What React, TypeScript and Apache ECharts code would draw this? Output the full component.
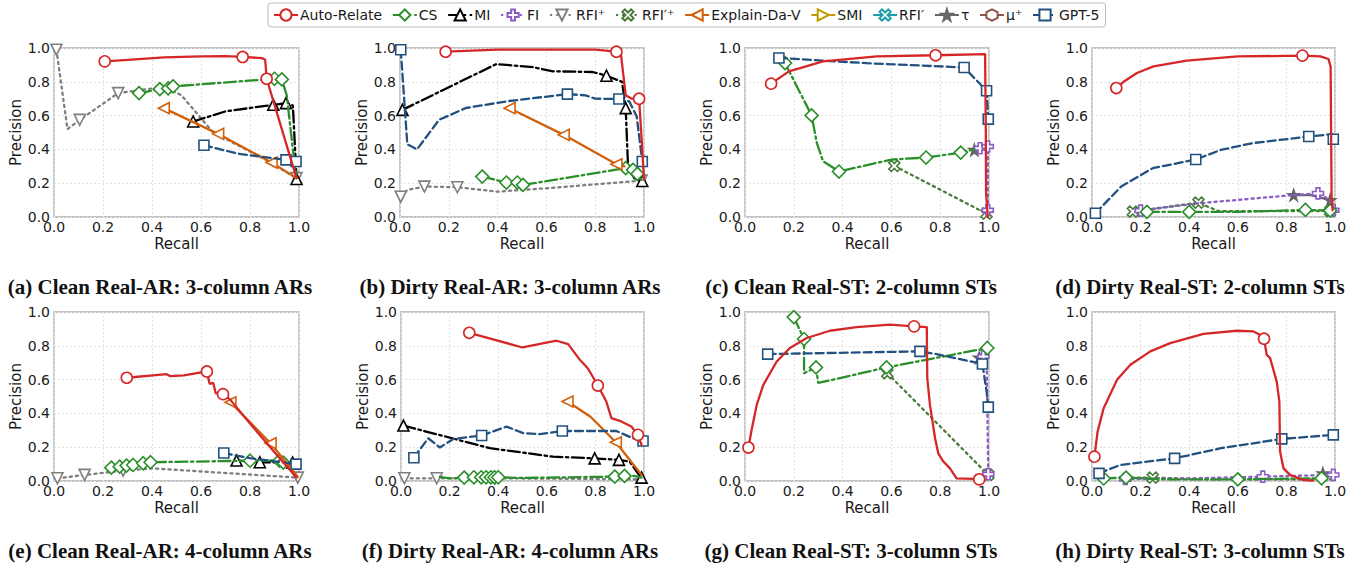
import React, { useEffect, useRef } from 'react';
import * as echarts from 'echarts';

type Pt = [number, number];
type Curve = { line: Pt[]; marks: Pt[] };

// ---------- axis ticks ----------
const TICKS = [0, 0.2, 0.4, 0.6, 0.8, 1.0];

// ---------- legend / methods ----------
const METHOD_NAMES = ['Auto-Relate', 'CS', 'MI', 'FI', 'RFI⁺', 'RFI′⁺', 'Explain-Da-V', 'SMI', 'RFI′', 'τ', 'μ⁺', 'GPT-5'];

const CAPTIONS = [
  '(a) Clean Real-AR: 3-column ARs',
  '(b) Dirty Real-AR: 3-column ARs',
  '(c) Clean Real-ST: 2-column STs',
  '(d) Dirty Real-ST: 2-column STs',
  '(e) Clean Real-AR: 4-column ARs',
  '(f) Dirty Real-AR: 4-column ARs',
  '(g) Clean Real-ST: 3-column STs',
  '(h) Dirty Real-ST: 3-column STs',
];

// ---------- data (recall, precision) ----------
const PANEL_A: Record<string, Curve> = {
  'RFI⁺': {
    line: [[0.01, 0.99], [0.055, 0.52], [0.105, 0.575], [0.262, 0.733], [0.45, 0.77], [0.52, 0.72], [0.65, 0.5], [0.85, 0.35], [0.99, 0.23]],
    marks: [[0.01, 0.99], [0.105, 0.575], [0.262, 0.733], [0.99, 0.23]],
  },
  'Explain-Da-V': {
    line: [[0.448, 0.644], [0.67, 0.492], [0.888, 0.322], [0.99, 0.23]],
    marks: [[0.448, 0.644], [0.67, 0.492], [0.888, 0.322]],
  },
  'GPT-5': {
    line: [[0.612, 0.425], [0.75, 0.375], [0.947, 0.338], [0.988, 0.328]],
    marks: [[0.612, 0.425], [0.947, 0.338], [0.988, 0.328]],
  },
  MI: {
    line: [[0.568, 0.565], [0.7, 0.625], [0.895, 0.664], [0.947, 0.674], [0.975, 0.66], [0.99, 0.225]],
    marks: [[0.568, 0.565], [0.895, 0.664], [0.947, 0.674], [0.99, 0.225]],
  },
  CS: {
    line: [[0.347, 0.733], [0.432, 0.757], [0.466, 0.761], [0.486, 0.773], [0.9, 0.818], [0.93, 0.814], [0.95, 0.72], [0.975, 0.4], [0.99, 0.23]],
    marks: [[0.347, 0.733], [0.432, 0.757], [0.466, 0.761], [0.486, 0.773], [0.9, 0.818], [0.93, 0.814]],
  },
  'Auto-Relate': {
    line: [[0.207, 0.921], [0.3, 0.93], [0.45, 0.945], [0.6, 0.95], [0.7, 0.952], [0.77, 0.947], [0.85, 0.94], [0.862, 0.93], [0.868, 0.818], [0.99, 0.23]],
    marks: [[0.207, 0.921], [0.77, 0.947], [0.868, 0.818]],
  },
};

const PANEL_B: Record<string, Curve> = {
  'RFI⁺': {
    line: [[0.003, 0.12], [0.03, 0.16], [0.1, 0.18], [0.235, 0.176], [0.4, 0.15], [0.6, 0.17], [0.99, 0.215]],
    marks: [[0.003, 0.12], [0.1, 0.18], [0.235, 0.176], [0.99, 0.215]],
  },
  'Explain-Da-V': {
    line: [[0.449, 0.644], [0.671, 0.486], [0.887, 0.312], [0.92, 0.3]],
    marks: [[0.449, 0.644], [0.671, 0.486], [0.887, 0.312]],
  },
  'GPT-5': {
    line: [[0.003, 0.99], [0.03, 0.43], [0.07, 0.4], [0.16, 0.575], [0.27, 0.645], [0.44, 0.685], [0.686, 0.727], [0.76, 0.72], [0.8, 0.7], [0.897, 0.698], [0.94, 0.684], [0.97, 0.595], [0.993, 0.328]],
    marks: [[0.003, 0.99], [0.686, 0.727], [0.897, 0.698], [0.993, 0.328]],
  },
  MI: {
    line: [[0.01, 0.634], [0.395, 0.905], [0.545, 0.887], [0.627, 0.862], [0.79, 0.858], [0.846, 0.836], [0.91, 0.8], [0.925, 0.644], [0.934, 0.32], [0.95, 0.26], [0.96, 0.23], [0.993, 0.213]],
    marks: [[0.01, 0.634], [0.846, 0.836], [0.925, 0.644], [0.993, 0.213]],
  },
  CS: {
    line: [[0.337, 0.239], [0.436, 0.204], [0.481, 0.204], [0.504, 0.19], [0.925, 0.289], [0.955, 0.279], [0.973, 0.255], [0.99, 0.22]],
    marks: [[0.337, 0.239], [0.436, 0.204], [0.481, 0.204], [0.504, 0.19], [0.925, 0.289], [0.955, 0.279], [0.973, 0.255]],
  },
  'Auto-Relate': {
    line: [[0.187, 0.978], [0.4, 0.99], [0.6, 0.99], [0.8, 0.99], [0.887, 0.978], [0.905, 0.97], [0.925, 0.72], [0.95, 0.7], [0.98, 0.7], [0.995, 0.35], [1.0, 0.22]],
    marks: [[0.187, 0.978], [0.887, 0.978], [0.98, 0.7]],
  },
};

const PANEL_C: Record<string, Curve> = {
  'RFI′⁺': {
    line: [[0.612, 0.302], [0.99, 0.02]],
    marks: [[0.612, 0.302], [0.99, 0.02]],
  },
  FI: {
    line: [[0.963, 0.407], [0.995, 0.417], [0.995, 0.04]],
    marks: [[0.963, 0.407], [0.995, 0.417], [0.995, 0.04]],
  },
  τ: {
    line: [[0.94, 0.397], [0.963, 0.405]],
    marks: [[0.94, 0.397]],
  },
  CS: {
    line: [[0.164, 0.911], [0.273, 0.601], [0.294, 0.44], [0.32, 0.33], [0.385, 0.269], [0.6, 0.34], [0.742, 0.352], [0.884, 0.381], [0.94, 0.4]],
    marks: [[0.164, 0.911], [0.273, 0.601], [0.385, 0.269], [0.742, 0.352], [0.884, 0.381]],
  },
  'GPT-5': {
    line: [[0.139, 0.941], [0.5, 0.91], [0.898, 0.885], [0.99, 0.747], [0.997, 0.579]],
    marks: [[0.139, 0.941], [0.898, 0.885], [0.99, 0.747], [0.997, 0.579]],
  },
  'Auto-Relate': {
    line: [[0.107, 0.789], [0.18, 0.862], [0.32, 0.921], [0.54, 0.95], [0.781, 0.957], [0.984, 0.964], [0.987, 0.5], [0.988, 0.14], [0.993, 0.04], [0.995, 0.0]],
    marks: [[0.107, 0.789], [0.781, 0.957]],
  },
};

const PANEL_D: Record<string, Curve> = {
  'RFI′⁺': {
    line: [[0.168, 0.032], [0.438, 0.085], [0.52, 0.035], [0.98, 0.035]],
    marks: [[0.168, 0.032], [0.438, 0.085], [0.98, 0.035]],
  },
  CS: {
    line: [[0.226, 0.03], [0.4, 0.03], [0.6, 0.03], [0.878, 0.042], [0.98, 0.038]],
    marks: [[0.226, 0.03], [0.4, 0.03], [0.878, 0.042], [0.98, 0.038]],
  },
  FI: {
    line: [[0.2, 0.038], [0.43, 0.08], [0.83, 0.13], [0.93, 0.14], [0.98, 0.1], [0.993, 0.04]],
    marks: [[0.2, 0.038], [0.93, 0.14], [0.993, 0.04]],
  },
  τ: {
    line: [[0.83, 0.13], [0.9, 0.13], [0.98, 0.1]],
    marks: [[0.83, 0.13], [0.98, 0.1]],
  },
  'GPT-5': {
    line: [[0.014, 0.022], [0.12, 0.18], [0.25, 0.289], [0.427, 0.34], [0.53, 0.397], [0.66, 0.437], [0.892, 0.476], [0.99, 0.49], [0.993, 0.46]],
    marks: [[0.014, 0.022], [0.427, 0.34], [0.892, 0.476], [0.993, 0.46]],
  },
  'Auto-Relate': {
    line: [[0.1, 0.763], [0.13, 0.8], [0.185, 0.852], [0.253, 0.891], [0.39, 0.925], [0.6, 0.95], [0.866, 0.955], [0.94, 0.95], [0.973, 0.935], [0.982, 0.89], [0.986, 0.12], [0.99, 0.04]],
    marks: [[0.1, 0.763], [0.866, 0.955]],
  },
};

const PANEL_E: Record<string, Curve> = {
  'RFI⁺': {
    line: [[0.014, 0.016], [0.125, 0.036], [0.282, 0.061], [0.4, 0.075], [0.995, 0.02]],
    marks: [[0.014, 0.016], [0.125, 0.036], [0.282, 0.061], [0.995, 0.02]],
  },
  CS: {
    line: [[0.234, 0.079], [0.268, 0.085], [0.296, 0.091], [0.323, 0.095], [0.364, 0.105], [0.394, 0.111], [0.8, 0.12], [0.92, 0.12], [0.936, 0.109], [0.99, 0.03]],
    marks: [[0.234, 0.079], [0.268, 0.085], [0.296, 0.091], [0.323, 0.095], [0.364, 0.105], [0.394, 0.111], [0.8, 0.12], [0.92, 0.12], [0.936, 0.109]],
  },
  'GPT-5': {
    line: [[0.693, 0.166], [0.8, 0.135], [0.988, 0.1]],
    marks: [[0.693, 0.166], [0.988, 0.1]],
  },
  MI: {
    line: [[0.745, 0.121], [0.84, 0.111], [0.974, 0.109]],
    marks: [[0.745, 0.121], [0.84, 0.111], [0.974, 0.109]],
  },
  'Explain-Da-V': {
    line: [[0.72, 0.466], [0.884, 0.223], [0.995, 0.026]],
    marks: [[0.72, 0.466], [0.884, 0.223]],
  },
  'Auto-Relate': {
    line: [[0.297, 0.611], [0.46, 0.632], [0.475, 0.62], [0.53, 0.625], [0.624, 0.648], [0.635, 0.575], [0.65, 0.58], [0.66, 0.52], [0.69, 0.514], [0.72, 0.48], [0.8, 0.34], [0.9, 0.17], [0.99, 0.02]],
    marks: [[0.297, 0.611], [0.624, 0.648], [0.69, 0.514]],
  },
};

const PANEL_F: Record<string, Curve> = {
  'RFI⁺': {
    line: [[0.014, 0.016], [0.147, 0.016], [0.386, 0.016], [0.99, 0.01]],
    marks: [[0.014, 0.016], [0.147, 0.016], [0.386, 0.016]],
  },
  CS: {
    line: [[0.16, 0.025], [0.2, 0.015], [0.26, 0.02], [0.3, 0.022], [0.33, 0.022], [0.35, 0.022], [0.37, 0.022], [0.385, 0.022], [0.4, 0.022], [0.5, 0.018], [0.88, 0.026], [0.92, 0.03], [0.96, 0.03], [0.99, 0.02]],
    marks: [[0.26, 0.02], [0.3, 0.022], [0.33, 0.022], [0.35, 0.022], [0.37, 0.022], [0.385, 0.022], [0.4, 0.022], [0.88, 0.026], [0.92, 0.03]],
  },
  MI: {
    line: [[0.01, 0.328], [0.366, 0.194], [0.626, 0.144], [0.797, 0.134], [0.897, 0.125], [0.941, 0.115], [0.975, 0.045], [0.99, 0.02]],
    marks: [[0.01, 0.328], [0.797, 0.134], [0.897, 0.125], [0.99, 0.02]],
  },
  'GPT-5': {
    line: [[0.053, 0.138], [0.112, 0.253], [0.16, 0.198], [0.215, 0.249], [0.332, 0.269], [0.434, 0.322], [0.503, 0.283], [0.571, 0.277], [0.664, 0.296], [0.886, 0.296], [0.955, 0.253], [0.996, 0.237]],
    marks: [[0.053, 0.138], [0.332, 0.269], [0.664, 0.296], [0.996, 0.237]],
  },
  'Explain-Da-V': {
    line: [[0.685, 0.47], [0.78, 0.38], [0.884, 0.229], [0.99, 0.036]],
    marks: [[0.685, 0.47], [0.884, 0.229]],
  },
  'Auto-Relate': {
    line: [[0.281, 0.877], [0.5, 0.79], [0.64, 0.83], [0.688, 0.81], [0.736, 0.717], [0.77, 0.664], [0.81, 0.565], [0.845, 0.47], [0.866, 0.372], [0.9, 0.356], [0.948, 0.322], [0.975, 0.273], [0.99, 0.213]],
    marks: [[0.281, 0.877], [0.81, 0.565], [0.975, 0.273]],
  },
};

const PANEL_G: Record<string, Curve> = {
  'RFI′⁺': {
    line: [[0.583, 0.638], [0.997, 0.036]],
    marks: [[0.583, 0.638], [0.997, 0.036]],
  },
  FI: {
    line: [[0.977, 0.737], [0.99, 0.74], [0.997, 0.04]],
    marks: [[0.977, 0.737], [0.997, 0.04]],
  },
  τ: {
    line: [[0.96, 0.73], [0.977, 0.737]],
    marks: [[0.96, 0.73]],
  },
  CS: {
    line: [[0.2, 0.97], [0.242, 0.84], [0.242, 0.638], [0.291, 0.672], [0.3, 0.58], [0.58, 0.672], [0.993, 0.787]],
    marks: [[0.2, 0.97], [0.242, 0.84], [0.291, 0.672], [0.58, 0.672], [0.993, 0.787]],
  },
  'GPT-5': {
    line: [[0.093, 0.751], [0.717, 0.767], [0.785, 0.751], [0.973, 0.692], [0.99, 0.53], [0.997, 0.437]],
    marks: [[0.093, 0.751], [0.717, 0.767], [0.973, 0.692], [0.997, 0.437]],
  },
  'Auto-Relate': {
    line: [[0.014, 0.198], [0.027, 0.302], [0.048, 0.45], [0.075, 0.569], [0.13, 0.707], [0.184, 0.787], [0.253, 0.846], [0.348, 0.889], [0.458, 0.911], [0.594, 0.925], [0.693, 0.915], [0.745, 0.911], [0.747, 0.609], [0.758, 0.45], [0.779, 0.253], [0.792, 0.164], [0.813, 0.115], [0.84, 0.075], [0.867, 0.016], [0.936, 0.012], [0.96, 0.01], [0.977, 0.006]],
    marks: [[0.014, 0.198], [0.693, 0.915], [0.96, 0.01]],
  },
};

const PANEL_H: Record<string, Curve> = {
  'RFI′⁺': {
    line: [[0.137, 0.02], [0.25, 0.02], [0.5, 0.01], [0.98, 0.01]],
    marks: [[0.25, 0.02]],
  },
  CS: {
    line: [[0.048, 0.015], [0.14, 0.02], [0.3, 0.01], [0.6, 0.01], [0.945, 0.016]],
    marks: [[0.048, 0.015], [0.14, 0.02], [0.6, 0.01], [0.945, 0.016]],
  },
  FI: {
    line: [[0.137, 0.012], [0.4, 0.015], [0.703, 0.026], [0.993, 0.036]],
    marks: [[0.137, 0.012], [0.703, 0.026], [0.993, 0.036]],
  },
  τ: {
    line: [[0.95, 0.045]],
    marks: [[0.95, 0.045]],
  },
  'GPT-5': {
    line: [[0.029, 0.045], [0.116, 0.095], [0.34, 0.134], [0.53, 0.194], [0.781, 0.249], [0.993, 0.273]],
    marks: [[0.029, 0.045], [0.34, 0.134], [0.781, 0.249], [0.993, 0.273]],
  },
  'Auto-Relate': {
    line: [[0.01, 0.144], [0.023, 0.292], [0.048, 0.431], [0.103, 0.599], [0.158, 0.688], [0.24, 0.767], [0.322, 0.816], [0.459, 0.87], [0.596, 0.889], [0.664, 0.885], [0.685, 0.87], [0.708, 0.842], [0.719, 0.747], [0.733, 0.727], [0.76, 0.589], [0.771, 0.47], [0.774, 0.174], [0.788, 0.075], [0.815, 0.036], [0.87, 0.006], [0.91, 0.002]],
    marks: [[0.01, 0.144], [0.708, 0.842]],
  },
};

const PANELS = [PANEL_A, PANEL_B, PANEL_C, PANEL_D, PANEL_E, PANEL_F, PANEL_G, PANEL_H];

// ---------- styling (not data) ----------
const SYM = {
  plus: 'path://M3.3,0L6.7,0L6.7,3.3L10,3.3L10,6.7L6.7,6.7L6.7,10L3.3,10L3.3,6.7L0,6.7L0,3.3L3.3,3.3Z',
  cross: 'path://M0,2.2L2.2,0L5,2.8L7.8,0L10,2.2L7.2,5L10,7.8L7.8,10L5,7.2L2.2,10L0,7.8L2.8,5Z',
  triDown: 'path://M0,0L10,0L5,9Z',
  triLeft: 'path://M0,5L9,0L9,10Z',
  triRight: 'path://M0,0L9,5L0,10Z',
  star: 'path://M5,0L6.2,3.6L10,3.6L6.9,5.9L8.1,9.5L5,7.3L1.9,9.5L3.1,5.9L0,3.6L3.8,3.6Z',
  hex: 'path://M5,0L9.33,2.5L9.33,7.5L5,10L0.67,7.5L0.67,2.5Z',
};
const DASHDOT = [12, 3.5, 2.5, 3.5];
const DASHED = [8, 4];
const DOTTED = [2.2, 4];
const LW = 2.3;

const STYLE: Record<string, { color: string; symbol: string; size: number; dash: any; filled?: boolean; z: number }> = {
  'Auto-Relate': { color: '#d62728', symbol: 'circle', size: 11, dash: 'solid', z: 12 },
  CS: { color: '#2a8f2a', symbol: 'diamond', size: 13, dash: DASHDOT, z: 8 },
  MI: { color: '#000000', symbol: 'triangle', size: 11, dash: DASHDOT, z: 7 },
  FI: { color: '#8a5cc4', symbol: SYM.plus, size: 11, dash: DOTTED, z: 6 },
  'RFI⁺': { color: '#7f7f7f', symbol: SYM.triDown, size: 11, dash: DOTTED, z: 3 },
  'RFI′⁺': { color: '#4a7d3b', symbol: SYM.cross, size: 11, dash: DOTTED, z: 4 },
  'Explain-Da-V': { color: '#d2600a', symbol: SYM.triLeft, size: 11, dash: 'solid', z: 9 },
  SMI: { color: '#c29a00', symbol: SYM.triRight, size: 11, dash: 'solid', z: 5 },
  'RFI′': { color: '#1aa0a8', symbol: SYM.cross, size: 11, dash: 'solid', z: 5 },
  τ: { color: '#666666', symbol: SYM.star, size: 11, dash: 'solid', filled: true, z: 5 },
  'μ⁺': { color: '#8c564b', symbol: SYM.hex, size: 11, dash: 'solid', z: 5 },
  'GPT-5': { color: '#22517f', symbol: 'rect', size: 10, dash: DASHED, z: 10 },
};

const GRIDS = [
  { left: 54, top: 48, width: 245, height: 169 },
  { left: 400, top: 48, width: 244, height: 169 },
  { left: 745, top: 48, width: 244, height: 169 },
  { left: 1092, top: 48, width: 243, height: 169 },
  { left: 54, top: 312, width: 245, height: 169 },
  { left: 401, top: 312, width: 243, height: 169 },
  { left: 745, top: 312, width: 244, height: 169 },
  { left: 1092, top: 312, width: 243, height: 169 },
];
const CAPTION_POS = [
  [160, 287], [510, 287], [851, 287], [1200, 287],
  [160, 551], [510, 551], [851, 551], [1200, 551],
];

const FONT = 'DejaVu Sans';
const TEXT = '#1a1a1a';

function buildOption() {
  const series: any[] = [];
  const grid: any[] = [];
  const xAxis: any[] = [];
  const yAxis: any[] = [];

  GRIDS.forEach((g, i) => {
    grid.push({ ...g, show: true, borderColor: '#b0b0b0', borderWidth: 1.3, backgroundColor: 'transparent' });
    const common = {
      gridIndex: i,
      type: 'value',
      min: TICKS[0],
      max: TICKS[TICKS.length - 1],
      interval: TICKS[1] - TICKS[0],
      axisLine: { show: false },
      axisTick: { show: false },
      splitLine: { show: true, lineStyle: { color: '#e2e2e2', type: [2, 2], width: 1 } },
      axisLabel: { formatter: (v: number) => v.toFixed(1), fontSize: 14, color: TEXT, fontFamily: FONT },
      nameLocation: 'middle',
      nameTextStyle: { fontSize: 15, color: TEXT, fontFamily: FONT },
    };
    xAxis.push({ ...common, name: 'Recall', nameGap: 19, axisLabel: { ...common.axisLabel, margin: 3 } });
    yAxis.push({ ...common, name: 'Precision', nameGap: 28, axisLabel: { ...common.axisLabel, margin: 4 } });
  });

  // legend series (ensures every method appears in legend with line + marker icon)
  METHOD_NAMES.forEach((name) => {
    const s = STYLE[name];
    series.push({
      type: 'line',
      name,
      xAxisIndex: 0,
      yAxisIndex: 0,
      data: [],
      symbol: s.symbol,
      symbolSize: s.size,
      showSymbol: false,
      lineStyle: { color: s.color, width: LW, type: s.dash },
      itemStyle: { color: s.filled ? s.color : '#ffffff', borderColor: s.color, borderWidth: 1.6 },
    });
  });

  PANELS.forEach((panel, i) => {
    Object.keys(panel).forEach((name) => {
      const s = STYLE[name];
      const c = panel[name];
      series.push({
        type: 'line',
        name,
        xAxisIndex: i,
        yAxisIndex: i,
        data: c.line,
        symbol: 'none',
        showSymbol: false,
        clip: true,
        z: s.z,
        lineStyle: { color: s.color, width: LW, type: s.dash, cap: 'round' },
        silent: true,
      });
      series.push({
        type: 'scatter',
        name,
        xAxisIndex: i,
        yAxisIndex: i,
        data: c.marks,
        symbol: s.symbol,
        symbolSize: s.size,
        z: s.z + 0.5,
        clip: false,
        itemStyle: { color: s.filled ? s.color : '#ffffff', borderColor: s.color, borderWidth: 1.6, opacity: 1 },
        silent: true,
      });
    });
  });

  const graphic = CAPTIONS.map((t, i) => ({
    type: 'text',
    x: CAPTION_POS[i][0],
    y: CAPTION_POS[i][1],
    style: {
      text: t,
      fontFamily: 'Liberation Serif',
      fontWeight: 'bold',
      fontSize: 21,
      fill: '#111',
      textAlign: 'center',
      textVerticalAlign: 'middle',
    },
  }));

  return {
    animation: false,
    backgroundColor: '#ffffff',
    legend: {
      data: METHOD_NAMES,
      top: 3,
      left: 268,
      itemWidth: 24,
      itemHeight: 14,
      itemGap: 9.7,
      padding: [5, 6, 5, 5],
      borderColor: '#bdbdbd',
      borderWidth: 1,
      borderRadius: 3,
      textStyle: { fontSize: 14, color: TEXT, fontFamily: FONT, padding: [0, 0, 0, -3] },
      selectedMode: false,
    },
    grid,
    xAxis,
    yAxis,
    series,
    graphic,
  };
}

export default function App() {
  const ref = useRef<HTMLDivElement>(null);
  useEffect(() => {
    if (!ref.current) return;
    const chart = echarts.init(ref.current, null, { renderer: 'svg' });
    chart.setOption(buildOption() as any);
    return () => chart.dispose();
  }, []);
  return <div ref={ref} style={{ position: 'fixed', left: 0, top: 0, width: 1364, height: 565, background: '#fff' }} />;
}
